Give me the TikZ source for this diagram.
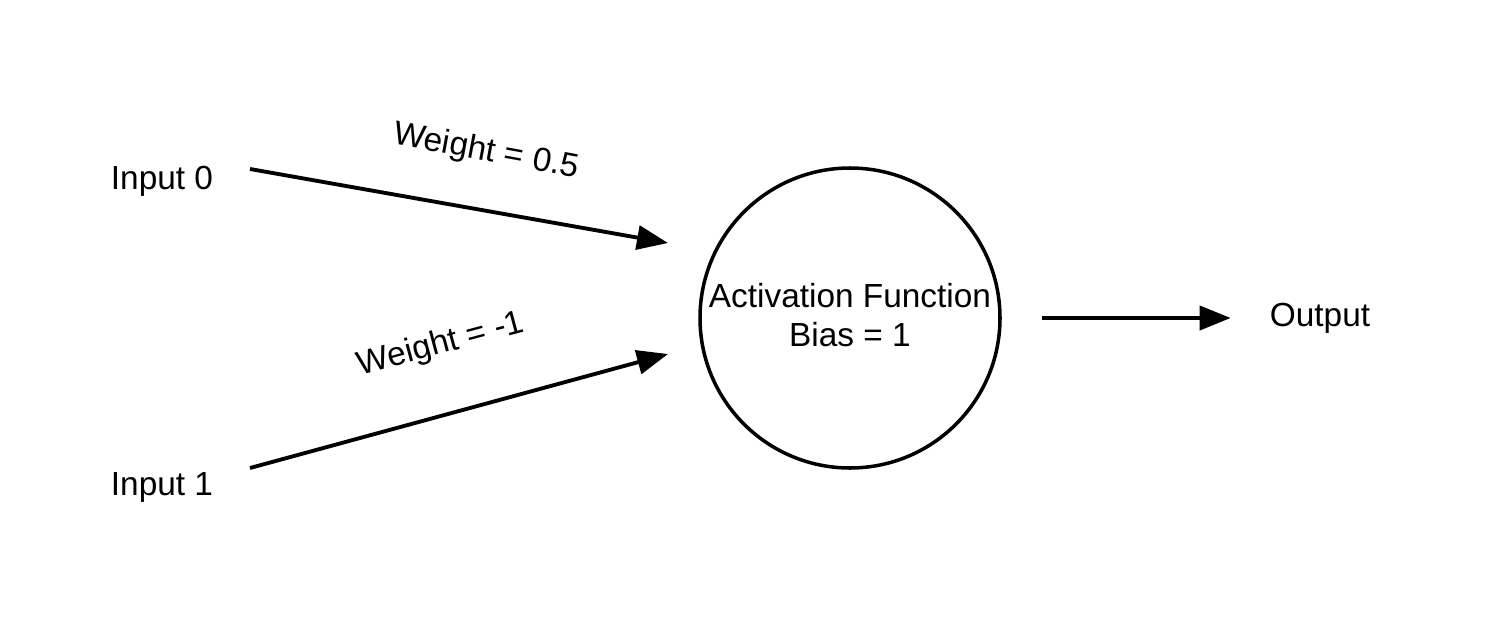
\documentclass[tikz,border=0pt]{standalone}
\usepackage{fontspec}
\setmainfont{Liberation Sans}
\usetikzlibrary{arrows.meta}
\begin{document}
\begin{tikzpicture}[>={Triangle[length=0.62cm,width=0.48cm]}, font=\fontsize{19}{22}\selectfont]
	\useasboundingbox (0,0) rectangle (29.78,-12.38);
	\node (input0)			at (3.24,-3.62) {Input 0};
	\node (input1)			at (3.24,-9.74) {Input 1};
	\node (neuron)			at (17,-6.36) [circle, draw, line width=2pt, minimum size=6cm, inner sep=0pt, align=center] {};
	\node (neuronlabel)		at (17,-6.3) [align=center] {Activation Function\\Bias = 1};
	\node (output)			at (26.4,-6.36) {Output};

	\coordinate (from0)		at (5,-3.38);
	\coordinate (to0)		at (13.36,-4.86);
	\coordinate (from1)		at (5,-9.36);
	\coordinate (to1)		at (13.36,-7.08);

	\path (from0)		edge[->,line width=2.2pt] (to0)
		(from1)				edge[->,line width=2.2pt] (to1)
		(neuron)			edge[->,line width=2.2pt,shorten <=0.8cm,shorten >=0.66cm] (output);

	\node (weight0)			at (9.72,-3.04) [rotate=-10.5] {Weight = 0.5};
	\node (weight1)			at (8.82,-6.9) [rotate=15] {Weight = -1};
\end{tikzpicture}
\end{document}
